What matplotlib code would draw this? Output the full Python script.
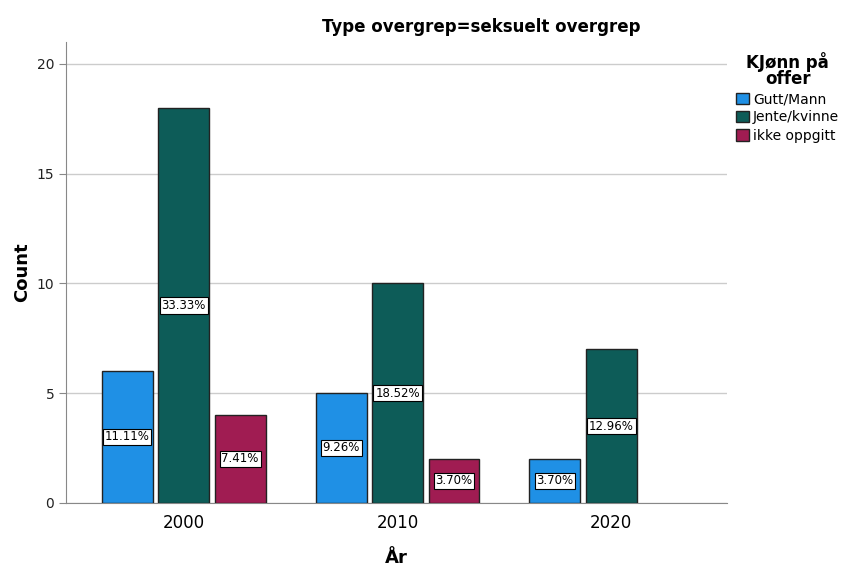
import numpy as np
import matplotlib.pyplot as plt
from matplotlib.patches import Patch

# data
years = ['2000', '2010', '2020']
gutt = [6, 5, 2]
jente = [18, 10, 7]
ikke = [4, 2, 0]
gutt_pct = ['11.11%', '9.26%', '3.70%']
jente_pct = ['33.33%', '18.52%', '12.96%']
ikke_pct = ['7.41%', '3.70%', None]

series = [
    ('Gutt/Mann', gutt, gutt_pct, '#1F90E5'),
    ('Jente/kvinne', jente, jente_pct, '#0D5C58'),
    ('ikke oppgitt', ikke, ikke_pct, '#A01C52'),
]

fig = plt.figure(figsize=(8.48, 5.65), dpi=100)
ax = fig.add_axes([0.078, 0.11, 0.779, 0.816])

x = np.arange(len(years))
width = 0.238
step = 0.264

handles = []
for i, (name, vals, pcts, col) in enumerate(series):
    pos = x + (i - 1) * step
    for p, v, lab in zip(pos, vals, pcts):
        if lab is None:
            continue
        ax.bar(p, v, width=width, color=col, edgecolor='#222222', linewidth=1, zorder=3)
        ax.text(p, v / 2, lab, ha='center', va='center', fontsize=8.5, zorder=4,
                bbox=dict(boxstyle='square,pad=0.15', fc='white', ec='black', lw=0.8))
    handles.append(Patch(facecolor=col, edgecolor='#222222', linewidth=1, label=name))

ax.set_xlim(-0.55, 2.54)
ax.set_ylim(0, 21)
ax.set_yticks([0, 5, 10, 15, 20])
ax.set_xticks(x)
ax.set_xticklabels(years, fontsize=12)
ax.tick_params(axis='x', length=0, pad=8)
ax.tick_params(axis='y', labelsize=10, color='#888888', length=5, labelcolor='#222222')
ax.yaxis.grid(True, color='#cccccc', linewidth=1, zorder=0)
for s in ['top', 'right']:
    ax.spines[s].set_visible(False)
for s in ['left', 'bottom']:
    ax.spines[s].set_color('#888888')

ax.set_ylabel('Count', fontsize=13, fontweight='bold', labelpad=4)
ax.set_xlabel('År', fontsize=13, fontweight='bold', labelpad=12)
fig.text(0.568, 0.953, 'Type overgrep=seksuelt overgrep', ha='center', va='center',
         fontsize=12, fontweight='bold')

leg = ax.legend(handles=handles, title='KJønn på\noffer', loc='upper left',
                bbox_to_anchor=(1.0, 1.0), frameon=False, fontsize=10,
                handlelength=0.9, handleheight=0.9, handletextpad=0.3,
                labelspacing=0.3, borderaxespad=0.3, alignment='center')
leg.get_title().set_fontweight('bold')
leg.get_title().set_fontsize(12)
leg.get_title().set_linespacing(0.9)
leg.get_title().set_ha('center')

fig.savefig('out.png', dpi=100)
